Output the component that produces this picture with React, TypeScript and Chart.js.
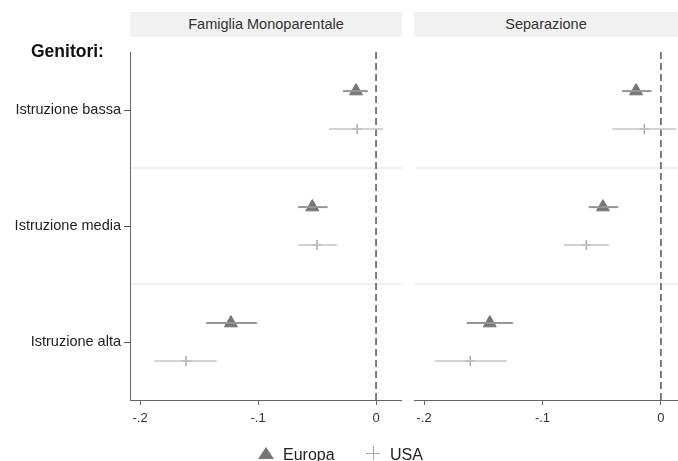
import React, { useEffect, useRef } from 'react';
import { Chart, registerables } from 'chart.js';
Chart.register(...registerables);

const FONT = '"Liberation Sans", Arial, sans-serif';

const categories = ['Istruzione bassa', 'Istruzione media', 'Istruzione alta'];
const panelTitles = ['Famiglia Monoparentale', 'Separazione'];
const seriesNames = ['Europa', 'USA'];
const xTickValues = [-0.2, -0.1, 0];
const xTickLabels = ['-.2', '-.1', '0'];

// Famiglia Monoparentale
const monoEuropa = [-0.017, -0.054, -0.123];
const monoEuropaLo = [-0.028, -0.066, -0.144];
const monoEuropaHi = [-0.007, -0.041, -0.101];
const monoUsa = [-0.016, -0.050, -0.161];
const monoUsaLo = [-0.040, -0.066, -0.188];
const monoUsaHi = [0.006, -0.033, -0.135];

// Separazione
const sepEuropa = [-0.021, -0.049, -0.1445];
const sepEuropaLo = [-0.033, -0.061, -0.164];
const sepEuropaHi = [-0.008, -0.036, -0.125];
const sepUsa = [-0.014, -0.063, -0.161];
const sepUsaLo = [-0.041, -0.082, -0.191];
const sepUsaHi = [0.013, -0.044, -0.130];

const OFF = 0.163;

function buildDatasets(eu: number[], euLo: number[], euHi: number[], us: number[], usLo: number[], usHi: number[]) {
  const ds: any[] = [];
  categories.forEach((_, i) => {
    const yE = i + 1 - OFF;
    const yU = i + 1 + OFF;
    ds.push({
      type: 'line',
      data: [{ x: euLo[i], y: yE }, { x: euHi[i], y: yE }],
      borderColor: '#959595', borderWidth: 2, pointRadius: 0, fill: false,
    });
    ds.push({
      type: 'line',
      data: [{ x: usLo[i], y: yU }, { x: usHi[i], y: yU }],
      borderColor: '#c6c6c6', borderWidth: 1.5, pointRadius: 0, fill: false,
    });
  });
  ds.push({
    type: 'scatter', label: seriesNames[0],
    data: eu.map((v, i) => ({ x: v, y: i + 1 - OFF })),
    pointStyle: 'triangle', pointRadius: 7.5,
    backgroundColor: '#767676', borderColor: '#767676', borderWidth: 1,
  });
  ds.push({
    type: 'scatter', label: seriesNames[1],
    data: us.map((v, i) => ({ x: v, y: i + 1 + OFF })),
    pointStyle: 'cross', pointRadius: 5,
    borderColor: '#a8a8a8', borderWidth: 1.5,
  });
  return ds;
}

const refPlugin = {
  id: 'refLines',
  beforeDatasetsDraw(chart: any) {
    const { ctx, chartArea, scales } = chart;
    const xs = scales.x;
    const ys = scales.y;
    ctx.save();
    ctx.strokeStyle = '#ebebeb';
    ctx.lineWidth = 1.5;
    for (let i = 1; i < categories.length; i++) {
      const py = ys.getPixelForValue(i + 0.5);
      ctx.beginPath();
      ctx.moveTo(chartArea.left + 1, py);
      ctx.lineTo(chartArea.right, py);
      ctx.stroke();
    }
    const px = xs.getPixelForValue(0);
    ctx.strokeStyle = '#555555';
    ctx.lineWidth = 1.5;
    ctx.setLineDash([7, 4]);
    ctx.beginPath();
    ctx.moveTo(px, chartArea.top);
    ctx.lineTo(px, chartArea.bottom);
    ctx.stroke();
    ctx.restore();
  },
};

function Panel(props: {
  left: number; width: number; padLeft: number; showY: boolean; xMin: number; xMax: number;
  eu: number[]; euLo: number[]; euHi: number[]; us: number[]; usLo: number[]; usHi: number[];
}) {
  const ref = useRef<HTMLCanvasElement>(null);
  useEffect(() => {
    if (!ref.current) return;
    const chart = new Chart(ref.current, {
      type: 'scatter',
      data: { datasets: buildDatasets(props.eu, props.euLo, props.euHi, props.us, props.usLo, props.usHi) },
      plugins: [refPlugin],
      options: {
        animation: false,
        responsive: false,
        layout: { autoPadding: false, padding: { left: props.padLeft, right: 0, top: 52, bottom: 0 } },
        plugins: { legend: { display: false }, tooltip: { enabled: false } },
        scales: {
          x: {
            type: 'linear', min: props.xMin, max: props.xMax,
            afterBuildTicks: (s: any) => { s.ticks = xTickValues.map((v) => ({ value: v })); },
            afterFit: (s: any) => { s.height = 61; },
            ticks: {
              callback: (_v: any, idx: number) => xTickLabels[idx],
              font: { family: FONT, size: 13 }, color: '#333', padding: 6, maxRotation: 0,
            },
            grid: { drawOnChartArea: false, drawTicks: true, tickLength: 5, tickColor: '#666' },
            border: { display: true, color: '#666', width: 1 },
          },
          y: {
            type: 'linear', min: 0.5, max: 3.5, reverse: true, display: props.showY,
            afterBuildTicks: (s: any) => { s.ticks = categories.map((_, i) => ({ value: i + 1 })); },
            afterFit: (s: any) => { if (props.showY) s.width = 130; },
            ticks: {
              callback: (_v: any, idx: number) => categories[idx],
              font: { family: FONT, size: 14.5 }, color: '#222', padding: 3,
            },
            grid: { drawOnChartArea: false, drawTicks: true, tickLength: 6, tickColor: '#555' },
            border: { display: true, color: '#666', width: 1 },
          },
        },
      } as any,
    });
    return () => chart.destroy();
  }, []);
  return (
    <canvas
      ref={ref}
      width={props.width}
      height={461}
      style={{ position: 'absolute', left: props.left, top: 0, width: props.width, height: 461 }}
    />
  );
}

const headerStyle = (left: number, width: number): React.CSSProperties => ({
  position: 'absolute', left, top: 12, width, height: 25, lineHeight: '25px',
  background: '#f1f1f1', color: '#333', fontFamily: FONT, fontSize: 14.5, textAlign: 'center',
});

export default function App() {
  return (
    <div style={{ position: 'fixed', left: 0, top: 0, width: 678, height: 461, overflow: 'hidden', background: '#fff' }}>
      <Panel left={0} width={402} padLeft={0} showY={true} xMin={-0.2085} xMax={0.022}
        eu={monoEuropa} euLo={monoEuropaLo} euHi={monoEuropaHi} us={monoUsa} usLo={monoUsaLo} usHi={monoUsaHi} />
      <Panel left={404} width={274} padLeft={10} showY={false} xMin={-0.2085} xMax={0.0144}
        eu={sepEuropa} euLo={sepEuropaLo} euHi={sepEuropaHi} us={sepUsa} usLo={sepUsaLo} usHi={sepUsaHi} />
      <div style={headerStyle(130, 272)}>{panelTitles[0]}</div>
      <div style={headerStyle(414, 264)}>{panelTitles[1]}</div>
      <div style={{ position: 'absolute', left: 31, top: 43, fontFamily: FONT, fontSize: 17.5, fontWeight: 'bold', lineHeight: '17px', color: '#111' }}>
        Genitori:
      </div>
      <div style={{ position: 'absolute', left: 258, top: 447, width: 0, height: 0, borderLeft: '8px solid transparent', borderRight: '8px solid transparent', borderBottom: '12px solid #767676' }} />
      <div style={{ position: 'absolute', left: 283, top: 447, fontFamily: FONT, fontSize: 16, lineHeight: '16px', color: '#222' }}>{seriesNames[0]}</div>
      <div style={{ position: 'absolute', left: 366, top: 453, width: 14, height: 1, background: '#a8a8a8' }} />
      <div style={{ position: 'absolute', left: 373, top: 446, width: 1, height: 14, background: '#a8a8a8' }} />
      <div style={{ position: 'absolute', left: 390, top: 447, fontFamily: FONT, fontSize: 16, lineHeight: '16px', color: '#222' }}>{seriesNames[1]}</div>
    </div>
  );
}
